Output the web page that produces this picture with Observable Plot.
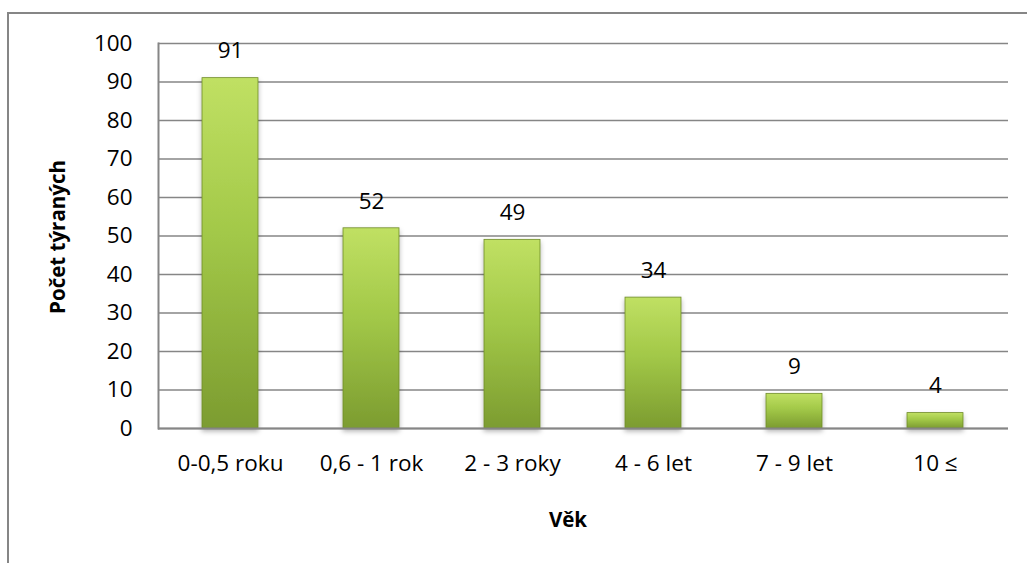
<!DOCTYPE html>
<html>
<head>
<meta charset="utf-8">
<script src="https://cdn.jsdelivr.net/npm/d3@7"></script>
<script src="https://cdn.jsdelivr.net/npm/@observablehq/plot@0.6"></script>
<style>
  html, body { margin: 0; padding: 0; background: #fff; }
  #chart svg { display: block; }
</style>
</head>
<body>
<div id="chart"></div>
<script>
const categories = ["0-0,5 roku", "0,6 - 1 rok", "2 - 3 roky", "4 - 6 let", "7 - 9 let", "10 ≤"];
const values = [91, 52, 49, 34, 9, 4];
const yTicks = [0, 10, 20, 30, 40, 50, 60, 70, 80, 90, 100];
const xTitle = "Věk";
const yTitle = "Počet týraných";

const data = categories.map((c, i) => ({ cat: c, val: values[i] }));

const W = 1027, H = 563;
const font = "'Open Sans', Lato, sans-serif";
const FS = 22.5;
const TFS = 20.5;

const chart = Plot.plot({
  width: W,
  height: H,
  marginLeft: 158,
  marginRight: 19,
  marginTop: 43,
  marginBottom: 135,
  style: { fontFamily: font, fontSize: FS + "px", color: "#000", background: "#fff" },
  x: { domain: categories, paddingInner: 0.6, paddingOuter: 0.3, label: null },
  y: { domain: [0, 100], label: null },
  marks: [
    Plot.gridY(yTicks, { stroke: "#868686", strokeOpacity: 1, strokeWidth: 1.5 }),
    Plot.axisY(yTicks, { tickSize: 0, tickPadding: 26, fontSize: FS, fill: "#000" }),
    Plot.axisX({ tickSize: 0, tickPadding: 27, fontSize: FS, fill: "#000" }),
    Plot.barY(data, { x: "cat", y: "val", fill: "url(#barGrad)", stroke: "#6f8c2a", strokeWidth: 0.8, className: "bars" }),
    Plot.ruleY([0], { stroke: "#868686", strokeWidth: 2 }),
    Plot.frame({ anchor: "left", stroke: "#868686", strokeWidth: 2 }),
    Plot.text(data, { x: "cat", y: "val", text: d => String(d.val), dy: -27, fontSize: FS, fill: "#000" })
  ]
});

// gradient definitions
const svg = d3.select(chart);
const defs = svg.insert("defs", ":first-child");
const g = defs.append("linearGradient").attr("id", "barGrad").attr("x1", 0).attr("y1", 0).attr("x2", 0).attr("y2", 1);
g.append("stop").attr("offset", "0%").attr("stop-color", "#c0e063");
g.append("stop").attr("offset", "45%").attr("stop-color", "#a2c848");
g.append("stop").attr("offset", "100%").attr("stop-color", "#7c9c30");
const f = defs.append("filter").attr("id", "shadow").attr("x", "-20%").attr("y", "-20%").attr("width", "140%").attr("height", "140%");
f.append("feDropShadow").attr("dx", 0).attr("dy", 3).attr("stdDeviation", 2.5).attr("flood-color", "#000").attr("flood-opacity", 0.3);
svg.selectAll("g.bars").attr("filter", "url(#shadow)");

// axis titles
svg.append("text")
  .attr("x", 568).attr("y", 522)
  .attr("text-anchor", "middle").attr("dominant-baseline", "middle")
  .attr("font-family", font).attr("font-size", TFS).attr("font-weight", "bold")
  .text(xTitle);
svg.append("text")
  .attr("transform", `translate(60, 237) rotate(-90)`)
  .attr("text-anchor", "middle").attr("dominant-baseline", "middle")
  .attr("font-family", font).attr("font-size", TFS).attr("font-weight", "bold")
  .text(yTitle);

// outer chart frame (top and left edges visible)
svg.append("path")
  .attr("d", `M8,${H} L8,13 L${W},13`)
  .attr("fill", "none").attr("stroke", "#868686").attr("stroke-width", 2);

document.getElementById("chart").appendChild(chart);
</script>
</body>
</html>
